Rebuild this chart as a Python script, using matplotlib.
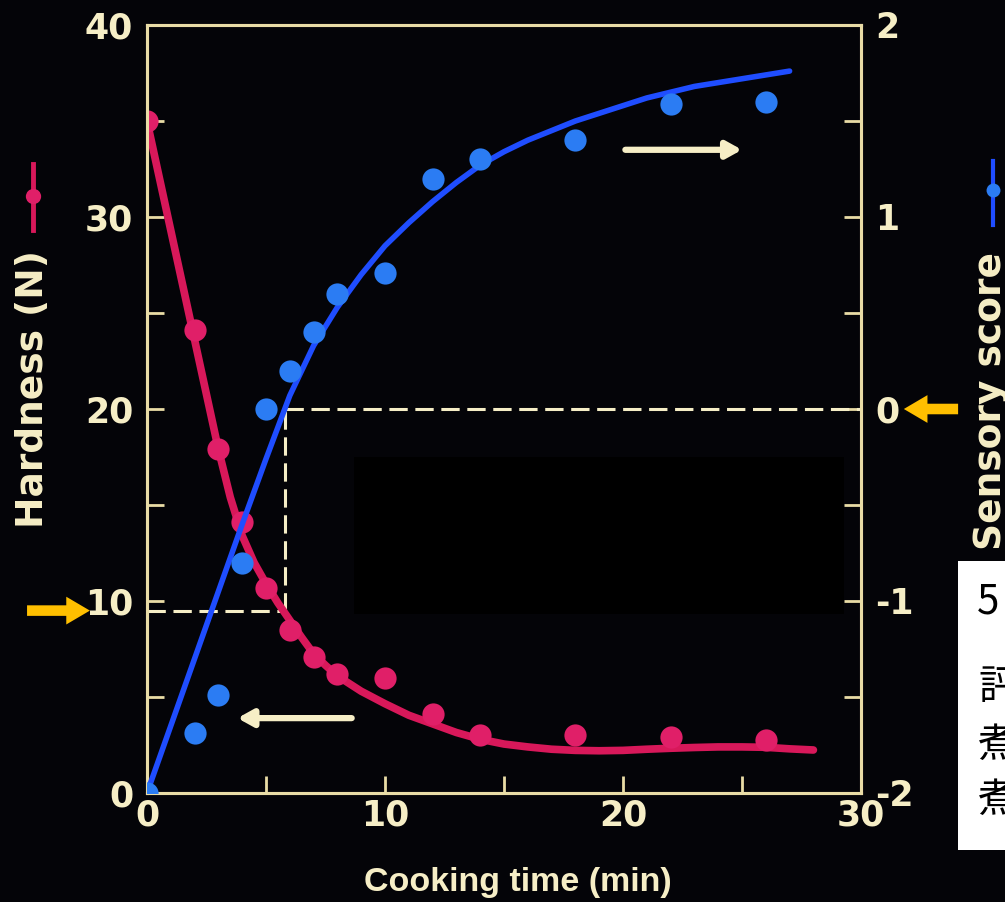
import matplotlib
matplotlib.use("Agg")
import matplotlib.pyplot as plt
from matplotlib.lines import Line2D
from matplotlib.patches import Rectangle
from matplotlib.ticker import MultipleLocator

# measured points: cooking time (min), hardness (N), sensory score
time_min = [0, 2, 3, 4, 5, 6, 7, 8, 10, 12, 14, 18, 22, 26]
hardness = [35.0, 24.1, 17.9, 14.1, 10.7, 8.5, 7.1, 6.2, 6.0, 4.1, 3.0, 3.0, 2.9, 2.75]
score = [-2.0, -1.69, -1.49, -0.80, 0.0, 0.20, 0.40, 0.60, 0.71, 1.20, 1.30, 1.40, 1.59, 1.60]

# fitted curves
fit_t_hard = [0, 1, 2, 3, 3.5, 4, 4.5, 5, 5.5, 6, 6.5, 7, 7.5, 8, 9, 10, 11, 12, 13, 14,
              15, 16, 17, 18, 19, 20, 21, 22, 23, 24, 25, 26, 27, 28]
fit_hard = [35.0, 29.3, 23.6, 17.9, 15.4, 13.4, 12.0, 10.9, 9.9, 9.0, 8.1, 7.25, 6.65, 6.1,
            5.3, 4.65, 4.05, 3.6, 3.15, 2.8, 2.55, 2.4, 2.28, 2.22, 2.2, 2.22, 2.28, 2.33,
            2.37, 2.4, 2.4, 2.38, 2.3, 2.24]
fit_t_score = list(range(0, 28))
fit_score = [-2.0, -1.65, -1.30, -0.95, -0.60, -0.26, 0.07, 0.33, 0.53, 0.70, 0.85, 0.97,
             1.08, 1.18, 1.27, 1.34, 1.40, 1.45, 1.50, 1.54, 1.58, 1.62, 1.65, 1.68, 1.70,
             1.72, 1.74, 1.76]

# score 0 <-> hardness threshold
cut_time = 5.8
cut_hardness = 9.5
cut_score = 0.0

W, H = 1005, 902
BG = "#040408"
CREAM = "#f6eec6"
SPINE = "#e9dca6"
RED = "#d8185a"
RED_PT = "#e01f68"
BLUE = "#1f4dff"
BLUE_PT = "#2b7cf3"
YELLOW = "#ffbf00"

plt.rcParams["axes.unicode_minus"] = False
TICKFONT = dict(family="DejaVu Sans", weight="bold", size=25)


def fx(px):
    return px / W


def fy(py):
    return 1 - py / H


fig = plt.figure(figsize=(W / 100, H / 100), dpi=100, facecolor=BG)
ax = fig.add_axes([fx(147), fy(793), (861 - 147) / W, (793 - 25) / H])
ax.set_facecolor(BG)
ax2 = ax.twinx()

ax.set_xlim(0, 30)
ax.set_ylim(0, 40)
ax2.set_ylim(-2, 2)

for a in (ax, ax2):
    for s in a.spines.values():
        s.set_color(SPINE)
        s.set_linewidth(2.2)

ax.xaxis.set_major_locator(MultipleLocator(10))
ax.xaxis.set_minor_locator(MultipleLocator(5))
ax.yaxis.set_major_locator(MultipleLocator(10))
ax.yaxis.set_minor_locator(MultipleLocator(5))
ax2.yaxis.set_major_locator(MultipleLocator(1))
ax2.yaxis.set_minor_locator(MultipleLocator(0.5))

ax.tick_params(axis="x", which="both", direction="in", color=SPINE, width=2, length=12,
               pad=4, top=False)
ax.tick_params(axis="y", which="both", direction="in", color=SPINE, width=2, length=12,
               pad=10, right=False)
ax2.tick_params(axis="y", which="both", direction="in", color=SPINE, width=2, length=12,
                pad=10, left=False)
for lab in ax.get_xticklabels() + ax.get_yticklabels() + ax2.get_yticklabels():
    lab.set(color=CREAM, **TICKFONT)

# black panel over the middle of the plot
ax.add_patch(Rectangle((8.7, 9.3), 20.6, 8.2, facecolor="black", edgecolor="none", zorder=1))

# threshold guide lines
dash = dict(color=CREAM, lw=2.2, ls=(0, (6, 2.5)), zorder=2)
ax.plot([0, cut_time], [cut_hardness, cut_hardness], **dash)
ax.plot([cut_time, cut_time], [cut_hardness, 20], **dash)
ax2.plot([cut_time, 30], [cut_score, cut_score], **dash)

# hardness on the left axis
ax.plot(fit_t_hard, fit_hard, color=RED, lw=5.5, solid_capstyle="round", zorder=3)
ax.plot(time_min, hardness, "o", color=RED_PT, ms=16, mec="none", zorder=4)

# sensory score on the right axis
ax2.plot(fit_t_score, fit_score, color=BLUE, lw=4, solid_capstyle="round", zorder=3)
ax2.plot(time_min, score, "o", color=BLUE_PT, ms=16, mec="none", zorder=4)

# white arrows pointing each series to its axis
warrow = dict(arrowstyle="-|>,head_length=0.9,head_width=0.5", color=CREAM, lw=4.5,
              shrinkA=0, shrinkB=0)
ax.annotate("", xy=(3.8, 3.9), xytext=(8.6, 3.9), arrowprops=warrow, zorder=5)
ax.annotate("", xy=(25.0, 33.5), xytext=(20.1, 33.5), arrowprops=warrow, zorder=5)

# yellow arrows marking the threshold on both axes
yarrow = dict(arrowstyle="simple,head_length=0.85,head_width=1.0,tail_width=0.38",
              color=YELLOW, lw=0, shrinkA=0, shrinkB=0, mutation_scale=20)
ax.annotate("", xy=(-0.08, cut_hardness), xytext=(-0.168, cut_hardness),
            xycoords=("axes fraction", "data"), textcoords=("axes fraction", "data"),
            arrowprops=yarrow, annotation_clip=False)
ax2.annotate("", xy=(1.06, cut_score), xytext=(1.136, cut_score),
             xycoords=("axes fraction", "data"), textcoords=("axes fraction", "data"),
             arrowprops=yarrow, annotation_clip=False)

# axis titles
labfont = dict(family="DejaVu Sans", weight="bold", size=27, color=CREAM)
fig.text(fx(33), fy(389), "Hardness (N)", rotation=90, ha="center", va="center", **labfont)
fig.text(fx(991), fy(401), "Sensory score", rotation=90, ha="center", va="center", **labfont)
fig.text(fx(518), fy(882), "Cooking time (min)", ha="center", va="center",
         family="Liberation Sans", weight="bold", size=24.5, color=CREAM)

# series glyphs next to the titles
fig.add_artist(Line2D([fx(33), fx(33)], [fy(164), fy(230)], color=RED, lw=3.5))
fig.add_artist(Line2D([fx(33)], [fy(196)], marker="o", ms=11, color=RED_PT, mec="none"))
fig.add_artist(Line2D([fx(993), fx(993)], [fy(161), fy(225)], color=BLUE, lw=3))
fig.add_artist(Line2D([fx(993)], [fy(190)], marker="o", ms=10, color=BLUE_PT, mec="none"))

# white caption box at the right edge
fig.add_artist(Rectangle((fx(958), fy(850)), fx(60), (850 - 561) / H,
                         transform=fig.transFigure, facecolor="white", edgecolor="none"))
capfont = dict(family=["Noto Sans CJK JP", "DejaVu Sans"], size=29, color="black",
               ha="left", va="center")
fig.text(fx(977), fy(602), "5", **capfont)
fig.text(fx(978), fy(688), "評", **capfont)
fig.text(fx(978), fy(745), "煮", **capfont)
fig.text(fx(978), fy(800), "煮", **capfont)

fig.savefig("out.png", dpi=100, facecolor=BG)
